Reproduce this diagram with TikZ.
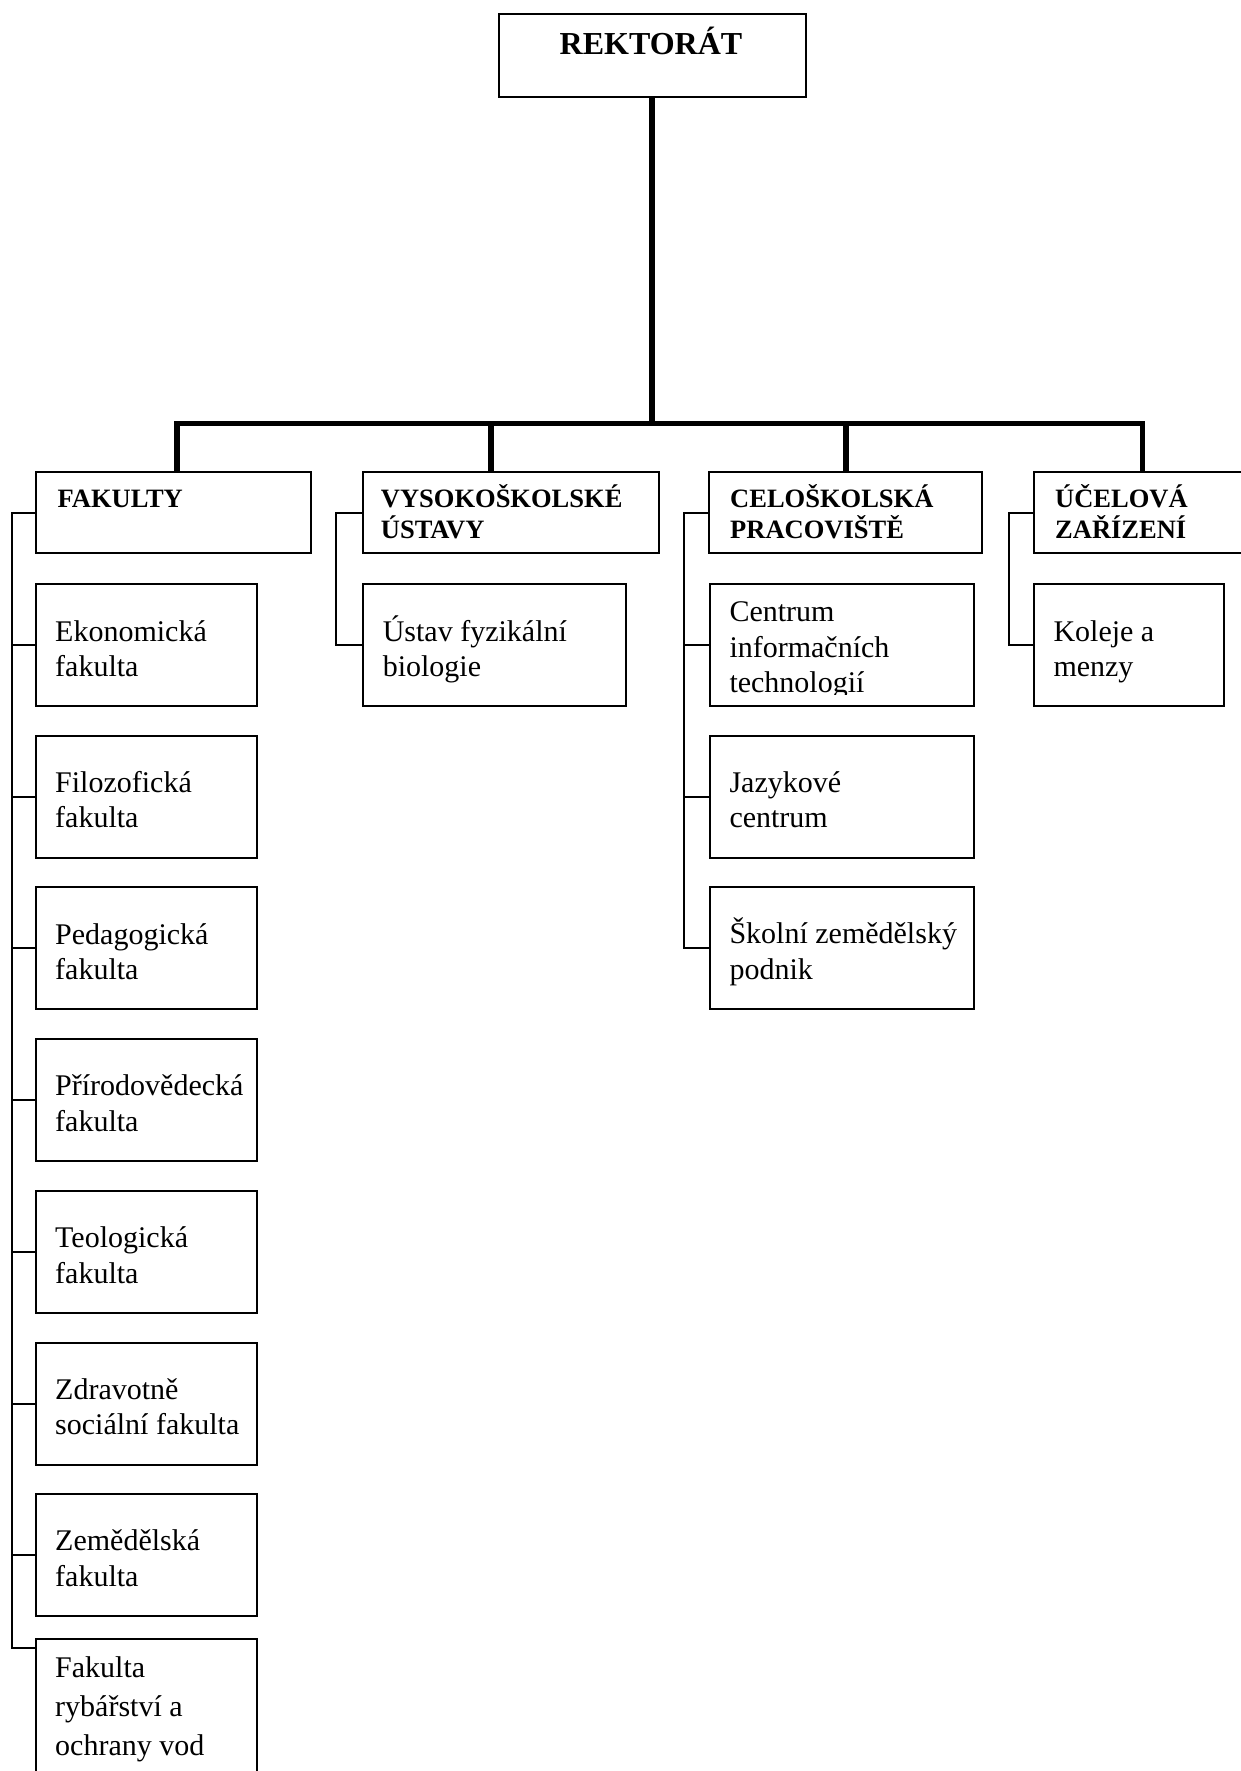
\documentclass[tikz,border=0pt]{standalone}
\usepackage{fontspec}
\setmainfont{Liberation Serif}
\newcommand\bodystrut{\rule{0pt}{32pt}}
\newcommand\headstrut{\rule{0pt}{28pt}}
\begin{document}
\begin{tikzpicture}[x=1pt,y=-1pt,
  box/.style={draw, line width=2pt, inner sep=0pt, anchor=north west},
  trunkline/.style={line width=5.5pt, line join=miter, line cap=butt},
  treeline/.style={line width=2pt, line join=miter},
  bodytxt/.style={anchor=north west, inner sep=0pt, align=left, font=\fontsize{30}{35.5}\selectfont},
  headtxt/.style={anchor=north west, inner sep=0pt, align=left, font=\bfseries\fontsize{26.5}{31}\selectfont},
  toptxt/.style={anchor=base, inner sep=0pt, font=\bfseries\fontsize{32}{38}\selectfont},
]
\useasboundingbox (0,0) rectangle (1240,1771);

% ---------- top box ----------
\node[box, minimum width=307pt, minimum height=82.7pt] (rek) at (497.5,13.3) {};
\node[toptxt] (rekt) at (651,55) {REKTORÁT};

% ---------- level 1 boxes ----------
\node[box, minimum width=275pt, minimum height=81pt] (fak) at (35,471) {};
\node[box, minimum width=296.3pt, minimum height=81pt] (vys) at (361.7,471) {};
\node[box, minimum width=273pt, minimum height=81pt] (cel) at (708,471) {};
\node[box, minimum width=300pt, minimum height=81pt] (uce) at (1032.7,471) {};

\node[headtxt] (fakt) at (57.5,479.5) {\headstrut FAKULTY};
\node[headtxt] (vyst) at (380.7,479.5) {\headstrut VYSOKOŠKOLSKÉ\\ÚSTAVY};
\node[headtxt] (celt) at (730,479.5) {\headstrut CELOŠKOLSKÁ\\PRACOVIŠTĚ};
\node[headtxt] (ucet) at (1055,479.5) {\headstrut ÚČELOVÁ\\ZAŘÍZENÍ};

% ---------- faculties ----------
\node[box, minimum width=221pt, minimum height=122pt] (eko) at (35,583) {};
\node[box, minimum width=221pt, minimum height=122pt] (filo) at (35,734.7) {};
\node[box, minimum width=221pt, minimum height=122pt] (ped) at (35,886.4) {};
\node[box, minimum width=221pt, minimum height=122pt] (pri) at (35,1038) {};
\node[box, minimum width=221pt, minimum height=122pt] (teo) at (35,1189.8) {};
\node[box, minimum width=221pt, minimum height=122pt] (zdr) at (35,1341.5) {};
\node[box, minimum width=221pt, minimum height=122pt] (zem) at (35,1493.2) {};
\node[box, minimum width=221pt, minimum height=200pt] (ryb) at (35,1638) {};

\node[bodytxt] (ekot) at (55,609) {\bodystrut Ekonomická\\fakulta};
\node[bodytxt] (filot) at (55,760.2) {\bodystrut Filozofická\\fakulta};
\node[bodytxt] (pedt) at (55,911.9) {\bodystrut Pedagogická\\fakulta};
\node[bodytxt] (prit) at (55,1063.5) {\bodystrut Přírodovědecká\\fakulta};
\node[bodytxt] (teot) at (55,1215.3) {\bodystrut Teologická\\fakulta};
\node[bodytxt] (zdrt) at (55,1367) {\bodystrut Zdravotně\\sociální fakulta};
\node[bodytxt] (zemt) at (55,1518.7) {\bodystrut Zemědělská\\fakulta};
\node[bodytxt, font=\fontsize{30}{39}\selectfont] (rybt) at (55,1645) {\bodystrut Fakulta\\rybářství a\\ochrany vod};

% ---------- institutes ----------
\node[box, minimum width=262.8pt, minimum height=122pt] (ust) at (361.7,583) {};
\node[bodytxt] (ustt) at (382.6,609) {\bodystrut Ústav fyzikální\\biologie};

% ---------- university-wide workplaces ----------
\node[box, minimum width=264pt, minimum height=122pt] (cit) at (709,583) {};
\node[box, minimum width=264pt, minimum height=122pt] (jaz) at (709,734.7) {};
\node[box, minimum width=264pt, minimum height=122pt] (skol) at (709,886.4) {};
\begin{scope}
  \clip (709,583) rectangle (973,694);
  \node[bodytxt] (citt) at (729.3,589.7) {\bodystrut Centrum\\informačních\\technologií};
\end{scope}
\node[bodytxt] (jazt) at (729.3,760.2) {\bodystrut Jazykové\\centrum};
\node[bodytxt] (skolt) at (729.3,911.3) {\bodystrut Školní zemědělský\\podnik};

% ---------- facilities ----------
\node[box, minimum width=190pt, minimum height=122pt] (kol) at (1033,583) {};
\node[bodytxt] (kolt) at (1053.3,609) {\bodystrut Koleje a\\menzy};

% ---------- thick connectors ----------
\coordinate (d1) at (177,423.5);
\coordinate (d2) at (491,423.5);
\coordinate (d3) at (846,423.5);
\coordinate (d4) at (1142.5,423.5);
\draw[trunkline] (rek.south) -- (rek.south |- d1);
\draw[trunkline] (d1 |- fak.north) -- (d1) -- (d4) -- (d4 |- uce.north);
\draw[trunkline] (d2) -- (d2 |- vys.north);
\draw[trunkline] (d3) -- (d3 |- cel.north);

% ---------- thin tree connectors ----------
\coordinate (v1) at (11.7,0);
\coordinate (v2) at (336,0);
\coordinate (v3) at (684,0);
\coordinate (v4) at (1009,0);
\coordinate (rybs) at (35,1648);

\draw[treeline] (fak.west) -- (fak.west -| v1) -- (v1 |- rybs) -- (rybs);
\foreach \n in {eko,filo,ped,pri,teo,zdr,zem}
  \draw[treeline] (\n.west) -- (\n.west -| v1);

\draw[treeline] (vys.west) -- (vys.west -| v2) -- (v2 |- ust.west) -- (ust.west);

\draw[treeline] (cel.west) -- (cel.west -| v3) -- (v3 |- skol.west) -- (skol.west);
\foreach \n in {cit,jaz}
  \draw[treeline] (\n.west) -- (\n.west -| v3);

\draw[treeline] (uce.west) -- (uce.west -| v4) -- (v4 |- kol.west) -- (kol.west);
\end{tikzpicture}
\end{document}
